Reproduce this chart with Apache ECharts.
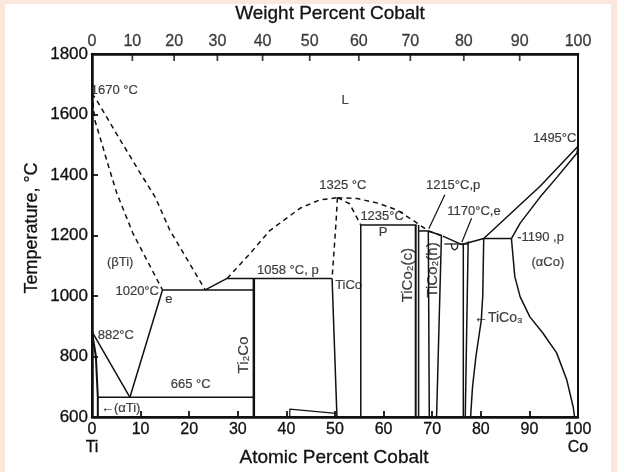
<!DOCTYPE html>
<html><head><meta charset="utf-8">
<script src="https://cdn.jsdelivr.net/npm/echarts@6/dist/echarts.min.js"></script>
<style>
html,body{margin:0;padding:0;background:#fbe7dc;width:617px;height:472px;overflow:hidden}
#paper{position:absolute;left:5px;top:4px;width:606px;height:468px;background:#ffffff}
#chart{position:absolute;left:0;top:0;width:617px;height:472px}
</style></head>
<body><div id="paper"></div><div id="chart"></div>
<script>
// ---- data (atomic % Co, temperature °C) ----
const xTicks = [0,10,20,30,40,50,60,70,80,90,100];
const yTicks = [600,800,1000,1200,1400,1600,1800];
const wtLabels = ['0','10','20','30','40','50','60','70','80','90','100'];
const wtAtPos  = [0,8.3,16.9,25.8,35.1,44.8,54.9,65.5,76.5,88.0,100];

const liqBetaTi   = [[0,1670],[1.2,1641],[5.8,1516],[9.9,1407],[13,1327],[16,1218],[23.3,1020]];
const solBetaTi   = [[0,1670],[0.6,1580],[2.0,1506],[3.0,1450],[5.1,1340],[8.4,1208],[14.5,1020]];
const eut1020     = [[14.5,1020],[33.3,1020]];
const liqToPeri   = [[23.3,1020],[27.8,1058]];
const peri1058    = [[27.8,1058],[49.4,1058]];
const liqTiCoL    = [[27.8,1058],[32.5,1140],[36.5,1215],[42.8,1290],[46.9,1318],[50.5,1325]];
const liqTiCoR    = [[50.5,1325],[54.6,1322],[58.8,1307],[62.8,1284],[66.9,1241],[69.2,1215],[72.2,1198]];
const solTiCoL    = [[50.5,1325],[50.2,1240],[49.4,1058]];
const solTiCoR    = [[50.5,1325],[53,1305],[55.3,1235]];
const tiCoL       = [[49.4,1058],[50.4,600]];
const tiCoR       = [[55.3,1235],[55.3,600]];
const peri1235    = [[55.3,1235],[66.8,1235]];
const tiCo2cA     = [[66.6,1235],[66.6,600]];
const tiCo2cB     = [[67.2,1235],[67.2,600]];
const peri1215    = [[67.2,1215],[69.2,1215]];
const tiCo2hL     = [[69.2,1215],[69.4,600]];
const tiCo2hR     = [[71.9,1200],[70.9,600]];
const solTiCo2h   = [[69.2,1215],[71.9,1200]];
const liqTo1170   = [[72.2,1198],[76.1,1170]];
const eut1170     = [[72.5,1172],[77.4,1172]];
const loop1170    = [[73.9,1172],[74.1,1158],[74.6,1152],[75.1,1157],[75.3,1170]];
const tiCo3A      = [[76.4,1172],[76.4,600]];
const tiCo3B      = [[77.4,1180],[76.8,600]];
const tiCo3R      = [[80.6,1190],[80.4,1000],[80.1,920],[79.0,800],[78.3,700],[77.9,600]];
const liqCo       = [[76.1,1170],[80.6,1190],[92.2,1363],[100,1495]];
const peri1190    = [[80.6,1190],[86.3,1190]];
const solCo       = [[100,1495],[99.8,1473],[95.7,1393],[92.2,1327],[88.1,1241],[86.3,1190]];
const alphaCo     = [[86.3,1190],[87.0,1064],[88.1,997],[90.1,931],[92.8,877],[95.6,812],[97.7,722],[99.0,634],[99.3,600]];
const betaSolvus  = [[7.8,665],[14.5,1020]];
const betaAlpha   = [[0,882],[7.8,665]];
const eutd665     = [[1.2,665],[33.3,665]];
const alphaTi     = [[0,882],[0.8,800],[1.2,665],[1.2,600]];
const ti2Co       = [[33.3,1058],[33.3,600]];
const sliver      = [[40.7,600],[40.7,626],[50.2,612]];
const lead1215    = [[69.3,1222],[72.6,1335]];
const lead1170    = [[76.1,1178],[78.1,1257]];

// annotations: [at%, °C, text, rotation, fontSize]
const notes = [
  [4.6,1681,'1670 °C',0,13],
  [52.1,1648,'L',0,13],
  [51.6,1364,'1325 °C',0,13],
  [59.7,1262,'1235°C',0,13],
  [59.9,1210,'P',0,13],
  [74.3,1364,'1215°C,p',0,13],
  [78.6,1280,'1170°C,e',0,13],
  [95.2,1522,'1495°C',0,13],
  [92.3,1192,'-1190 ,p',0,13],
  [93.8,1112,'(αCo)',0,13],
  [5.8,1112,'(βTi)',0,13],
  [9.3,1015,'1020°C',0,13],
  [15.8,990,'e',0,13],
  [4.9,871,'882°C',0,13],
  [20.3,709,'665 °C',0,13],
  [5.9,630,'←(αTi)',0,13],
  [31.2,805,'Ti₂Co',90,15],
  [40.3,1084,'1058 °C, p',0,13],
  [52.8,1036,'TiCo',0,13],
  [65.0,1069,'TiCo₂(c)',90,15],
  [70.1,1086,'TiCo₂(h)',90,15],
  [83.6,927,'←TiCo₃',0,14]
];

const INK = '#111111';
const FONT = 'Liberation Sans, Arial, sans-serif';
function seg(data, dashed, width) {
  return {type:'line', data:data, showSymbol:false, symbol:'none', clip:false, silent:true,
    animation:false, z:3, lineStyle:{color:INK, width:width||1.5, type:dashed?[5,4]:'solid'}};
}
const series = [
  seg(liqBetaTi,true), seg(solBetaTi,true), seg(eut1020), seg(liqToPeri), seg(peri1058),
  seg(liqTiCoL,true), seg(liqTiCoR,true), seg(solTiCoL,true), seg(solTiCoR,true),
  seg(tiCoL), seg(tiCoR), seg(peri1235), seg(tiCo2cA,false,2), seg(tiCo2cB),
  seg(peri1215), seg(tiCo2hL), seg(tiCo2hR), seg(solTiCo2h), seg(liqTo1170), seg(eut1170,false,1.2),
  seg(loop1170,false,1.2), seg(tiCo3A), seg(tiCo3B), seg(tiCo3R), seg(liqCo), seg(peri1190),
  seg(solCo), seg(alphaCo), seg(betaSolvus), seg(betaAlpha), seg(eutd665), seg(alphaTi,false,2),
  seg(ti2Co,false,2.5), seg(sliver,false,1.2), seg(lead1215,false,1.2), seg(lead1170,false,1.2)
];
const heavy = {textBorderColor:INK, textBorderWidth:0.3};
// top (weight percent) ticks and labels
series.push({type:'scatter', xAxisIndex:1, clip:false, silent:true, animation:false, z:4,
  symbol:'rect', symbolSize:[1.8,7], symbolOffset:[0,3.5], itemStyle:{color:INK},
  data: wtAtPos.slice(1,-1).map(v=>[v,1800])});
series.push({type:'scatter', xAxisIndex:1, clip:false, silent:true, animation:false, z:4,
  symbolSize:0.1, itemStyle:{color:'rgba(0,0,0,0)'},
  label:Object.assign({show:true, position:'top', distance:4, formatter:'{b}', color:INK, fontSize:16, fontFamily:FONT}, heavy),
  data: wtAtPos.map((v,i)=>({name:wtLabels[i], value:[v,1800]}))});
// annotations
series.push({type:'scatter', clip:false, silent:true, animation:false, z:5,
  symbolSize:0.1, itemStyle:{color:'rgba(0,0,0,0)'},
  label:{show:true, position:'inside', formatter:'{b}', color:INK, fontSize:13, fontFamily:FONT, textBorderColor:INK, textBorderWidth:0.2},
  data: notes.map(n=>({name:n[2], value:[n[0],n[1]], label:{rotate:n[3], fontSize:n[4]}}))});

const chart = echarts.init(document.getElementById('chart'), null, {renderer:'canvas'});
chart.setOption({
  backgroundColor:'transparent',
  animation:false,
  grid:{left:92, right:39, top:54, bottom:55, show:true, borderColor:INK, borderWidth:2, backgroundColor:'transparent'},
  xAxis:[
    {type:'value', min:0, max:100, interval:10, position:'bottom',
     axisLine:{show:true, lineStyle:{color:INK, width:2.5}},
     axisTick:{show:true, inside:true, length:6, lineStyle:{color:INK, width:1.8}},
     splitLine:{show:false},
     axisLabel:Object.assign({color:INK, fontSize:16, fontFamily:FONT, margin:4, lineHeight:18,
       formatter:function(v){ if(v===0) return '0\nTi'; if(v===100) return '100\nCo'; return xTicks.indexOf(v)>=0?String(v):''; }}, heavy)},
    {type:'value', min:0, max:100, position:'top',
     axisLine:{show:true, lineStyle:{color:INK, width:2.5}}, axisTick:{show:false},
     axisLabel:{show:false}, splitLine:{show:false}}
  ],
  yAxis:{type:'value', min:600, max:1800, interval:200,
     axisLine:{show:true, lineStyle:{color:INK, width:2.5}},
     axisTick:{show:true, inside:true, length:6, lineStyle:{color:INK, width:1.8}},
     splitLine:{show:false},
     axisLabel:Object.assign({color:INK, fontSize:17, fontFamily:FONT, margin:4,
       formatter:function(v){ return yTicks.indexOf(v)>=0?String(v):''; }}, heavy)},
  graphic:[
    {type:'text', x:330, y:14, style:{text:'Weight Percent Cobalt', fill:INK, font:'19px '+FONT, textAlign:'center', textVerticalAlign:'middle', stroke:INK, lineWidth:0.3}},
    {type:'text', x:334, y:458, style:{text:'Atomic Percent Cobalt', fill:INK, font:'19px '+FONT, textAlign:'center', textVerticalAlign:'middle', stroke:INK, lineWidth:0.3}},
    {type:'text', x:32, y:228, rotation:Math.PI/2, style:{text:'Temperature, °C', fill:INK, font:'18px '+FONT, textAlign:'center', textVerticalAlign:'middle', stroke:INK, lineWidth:0.3}}
  ],
  series: series
});
</script></body></html>
